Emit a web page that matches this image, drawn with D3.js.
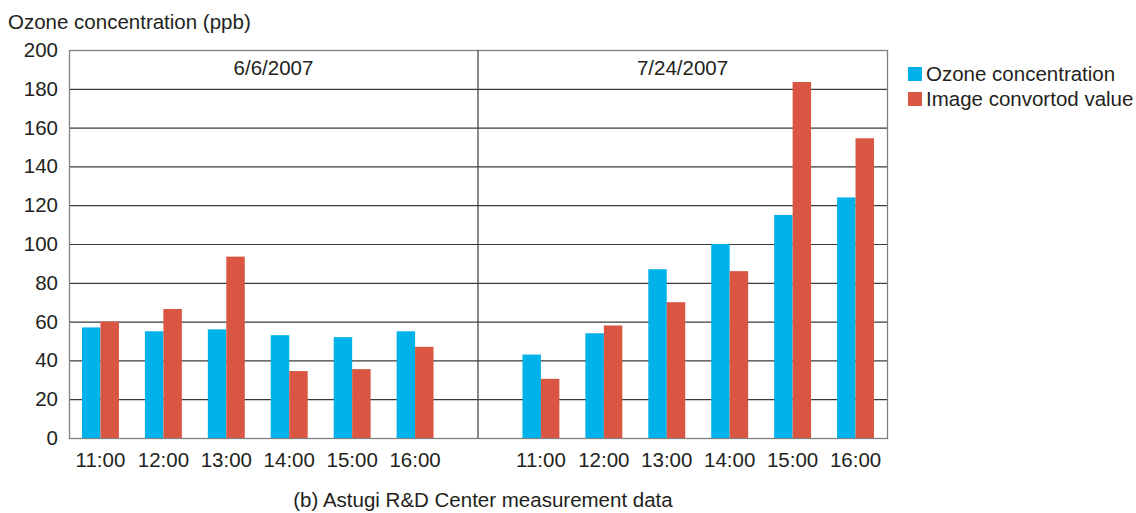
<!DOCTYPE html>
<html lang="en">
  <head>
    <meta charset="UTF-8" />
    <title>Ozone concentration</title>
    <script src="https://d3js.org/d3.v7.min.js"></script>
    <style>
      body { margin: 0; background: white; }
      text { font-family: "Liberation Sans", Arial, sans-serif; fill: #231f20; }
    </style>
  </head>
  <body>
    <div class="visHolder"></div>
    <script>
      // ----------- Data ----------- //
      var times = ["11:00", "12:00", "13:00", "14:00", "15:00", "16:00"];
      var dates = ["6/6/2007", "7/24/2007"];
      var ozoneJune = [57, 55, 56, 53, 52, 55];
      var imageJune = [60, 66.5, 93.5, 34.5, 35.5, 47];
      var ozoneJuly = [43, 54, 87, 100, 115, 124];
      var imageJuly = [30.5, 58, 70, 86, 183.5, 154.5];
      var yTicks = [0, 20, 40, 60, 80, 100, 120, 140, 160, 180, 200];
      var seriesNames = ["Ozone concentration", "Image convortod value"];
      var colors = ["#00b2ea", "#d95742"];

      // ----------- Basic Variables ----------- //
      var width = 1136;
      var height = 513;
      var plotLeft = 69, plotRight = 887, plotTop = 50, plotBottom = 438;
      var fontSize = "20.5px";

      var svg = d3.select(".visHolder")
        .append("svg")
        .attr("width", width)
        .attr("height", height);

      // slots: 6 times, one empty gap slot, 6 times
      var slots = times.map(t => "a" + t).concat(["gap"]).concat(times.map(t => "b" + t));

      var xScale = d3.scaleBand()
        .domain(slots)
        .range([plotLeft, plotRight])
        .paddingInner(0.413)
        .paddingOuter(0.2065);

      var yScale = d3.scaleLinear()
        .domain([0, 200])
        .range([plotBottom, plotTop]);

      var barW = xScale.bandwidth() / 2;

      // ----------- Grid ----------- //
      svg.append("g").selectAll("line")
        .data(yTicks.filter(d => d > 0 && d < 200))
        .enter().append("line")
        .attr("x1", plotLeft).attr("x2", plotRight)
        .attr("y1", d => yScale(d) + 0.5).attr("y2", d => yScale(d) + 0.5)
        .style("stroke", "#3a3a3a")
        .style("stroke-width", 1.2);

      // frame
      svg.append("rect")
        .attr("x", plotLeft + 0.5).attr("y", plotTop + 0.5)
        .attr("width", plotRight - plotLeft).attr("height", plotBottom - plotTop)
        .style("fill", "none")
        .style("stroke", "#808080")
        .style("stroke-width", 1.3);

      // divider between dates
      var divX = xScale("gap") + xScale.bandwidth() / 2;
      svg.append("line")
        .attr("x1", divX).attr("x2", divX)
        .attr("y1", plotTop).attr("y2", plotBottom)
        .style("stroke", "#4a4a4a")
        .style("stroke-width", 1.3);

      // ----------- Bars ----------- //
      var rows = [];
      times.forEach(function(t, i) {
        rows.push({ slot: "a" + t, s: 0, v: ozoneJune[i] });
        rows.push({ slot: "a" + t, s: 1, v: imageJune[i] });
        rows.push({ slot: "b" + t, s: 0, v: ozoneJuly[i] });
        rows.push({ slot: "b" + t, s: 1, v: imageJuly[i] });
      });

      svg.append("g").selectAll("rect")
        .data(rows)
        .enter().append("rect")
        .attr("x", d => xScale(d.slot) + d.s * barW)
        .attr("y", d => yScale(d.v))
        .attr("width", barW)
        .attr("height", d => plotBottom - yScale(d.v))
        .style("fill", d => colors[d.s]);

      // ----------- Axes ----------- //
      var yAxis = d3.axisLeft(yScale).tickValues(yTicks).tickSize(0).tickPadding(11);
      svg.append("g")
        .attr("transform", "translate(" + plotLeft + ",0)")
        .call(yAxis)
        .call(g => g.select(".domain").remove())
        .selectAll("text")
        .style("font-size", fontSize)
        .style("font-family", "'Liberation Sans', Arial, sans-serif")
        .style("fill", "#231f20");

      var xAxis = d3.axisBottom(xScale)
        .tickValues(slots.filter(s => s !== "gap"))
        .tickFormat(s => s.slice(1))
        .tickSize(0).tickPadding(14);
      svg.append("g")
        .attr("transform", "translate(0," + plotBottom + ")")
        .call(xAxis)
        .call(g => g.select(".domain").remove())
        .selectAll("text")
        .style("font-size", fontSize)
        .style("font-family", "'Liberation Sans', Arial, sans-serif")
        .style("fill", "#231f20");

      // ----------- Labels ----------- //
      svg.selectAll(".date")
        .data(dates)
        .enter().append("text")
        .attr("class", "date")
        .attr("x", (d, i) => i === 0 ? (plotLeft + divX) / 2 : (divX + plotRight) / 2)
        .attr("y", 75)
        .attr("text-anchor", "middle")
        .style("font-size", fontSize)
        .text(d => d);

      svg.append("text")
        .attr("x", 8).attr("y", 29)
        .style("font-size", fontSize)
        .text("Ozone concentration (ppb)");

      svg.append("text")
        .attr("x", 483).attr("y", 507)
        .attr("text-anchor", "middle")
        .style("font-size", fontSize)
        .text("(b) Astugi R&D Center measurement data");

      // ----------- Legend ----------- //
      var legend = svg.append("g").attr("transform", "translate(908,67)");
      seriesNames.forEach(function(name, i) {
        legend.append("rect")
          .attr("x", 0).attr("y", i * 25)
          .attr("width", 14).attr("height", 14)
          .style("fill", colors[i]);
        legend.append("text")
          .attr("x", 18).attr("y", i * 25 + 14)
          .style("font-size", fontSize)
          .text(name);
      });
    </script>
  </body>
</html>
